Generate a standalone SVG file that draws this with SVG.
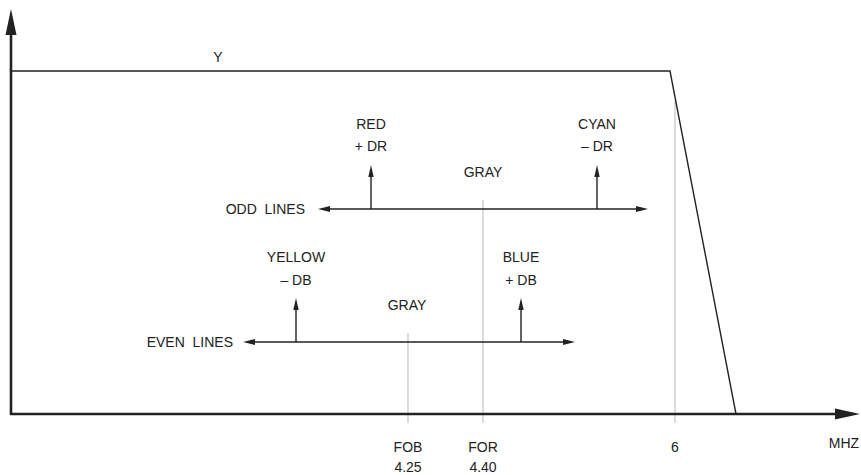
<svg xmlns="http://www.w3.org/2000/svg" width="861" height="475" viewBox="0 0 861 475">
<style>
text{font-family:"Liberation Sans",Arial,sans-serif;font-size:14px;fill:#222;text-anchor:middle;white-space:pre}
.ax{stroke:#222;stroke-width:2.6;fill:none}
.ln{stroke:#222;stroke-width:1.4;fill:none}
.gr{stroke:#c4c4c4;stroke-width:1.2;fill:none}
.hd{fill:#222}
</style>
<rect width="861" height="475" fill="#fff"/>
<g id="guides">
<line class="gr" x1="408" y1="333" x2="408" y2="423"/>
<line class="gr" x1="483" y1="200" x2="483" y2="423"/>
<line class="gr" x1="675" y1="101" x2="675" y2="423"/>
</g>
<g id="axes">
<line class="ax" x1="11" y1="415" x2="11" y2="32"/>
<polygon class="hd" points="11,9 5.5,35 16.5,35"/>
<line class="ax" x1="10" y1="414" x2="838" y2="414"/>
<polygon class="hd" points="860,414 835,408.5 835,419.5"/>
</g>
<g id="y-curve">
<polyline class="ln" points="11,71 670,71 736,414"/>
<text x="218" y="62">Y</text>
</g>
<g id="connectors">
<line class="ln" x1="326" y1="209" x2="640" y2="209"/>
<polygon class="hd" points="318,209 330,206 330,212"/>
<polygon class="hd" points="648,209 636,206 636,212"/>
<line class="ln" x1="371" y1="209" x2="371" y2="174"/>
<polygon class="hd" points="371,165 368.3,177 373.7,177"/>
<line class="ln" x1="597" y1="209" x2="597" y2="174"/>
<polygon class="hd" points="597,165 594.3,177 599.7,177"/>
<line class="ln" x1="251" y1="342" x2="567" y2="342"/>
<polygon class="hd" points="243,342 255,339 255,345"/>
<polygon class="hd" points="575,342 563,339 563,345"/>
<line class="ln" x1="296" y1="342" x2="296" y2="307"/>
<polygon class="hd" points="296,298 293.3,310 298.7,310"/>
<line class="ln" x1="521" y1="342" x2="521" y2="307"/>
<polygon class="hd" points="521,298 518.3,310 523.7,310"/>
</g>
<g id="odd-lines">
<text x="305" y="214" style="text-anchor:end" xml:space="preserve">ODD  LINES</text>
<text x="483" y="177">GRAY</text>
</g>
<g id="red">
<text x="371" y="129">RED</text>
<text x="371" y="151">+ DR</text>
</g>
<g id="cyan">
<text x="597" y="129">CYAN</text>
<text x="597" y="151">– DR</text>
</g>
<g id="even-lines">
<text x="233" y="347" style="text-anchor:end" xml:space="preserve">EVEN  LINES</text>
<text x="407" y="310">GRAY</text>
</g>
<g id="yellow">
<text x="296" y="262">YELLOW</text>
<text x="296" y="285">– DB</text>
</g>
<g id="blue">
<text x="521" y="262">BLUE</text>
<text x="521" y="285">+ DB</text>
</g>
<g id="labels">
<text x="408" y="452">FOB</text>
<text x="408" y="472">4.25</text>
<text x="483" y="452">FOR</text>
<text x="483" y="472">4.40</text>
<text x="675" y="452">6</text>
<text x="844" y="448">MHZ</text>
</g>
</svg>
